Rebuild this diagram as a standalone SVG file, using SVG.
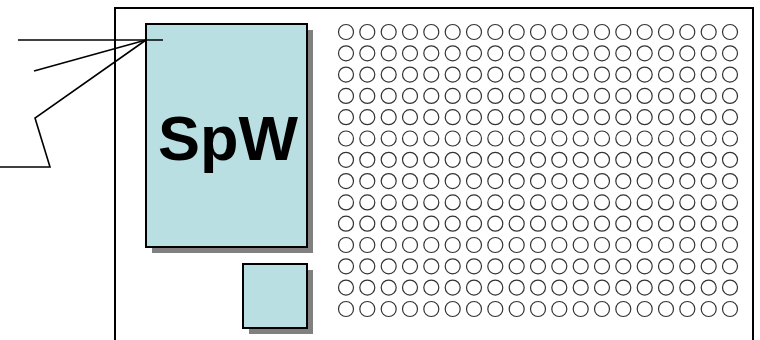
<svg xmlns="http://www.w3.org/2000/svg" xmlns:xlink="http://www.w3.org/1999/xlink" width="760" height="340" viewBox="0 0 760 340">
<style>
.box{fill:#b9dfe3;stroke:#000;stroke-width:2}
.shadow{fill:#808080}
.ln{fill:none;stroke:#000;stroke-width:1.6}
.hole{fill:#fff;stroke:#333;stroke-width:1.2}
.lbl{font-family:"Liberation Sans",Arial,sans-serif;font-weight:bold;font-size:63px;fill:#000}
</style>
<defs>
<g id="row">
<circle class="hole" cx="346" cy="0" r="7.5"/><circle class="hole" cx="367.3" cy="0" r="7.5"/><circle class="hole" cx="388.7" cy="0" r="7.5"/><circle class="hole" cx="410" cy="0" r="7.5"/><circle class="hole" cx="431.3" cy="0" r="7.5"/><circle class="hole" cx="452.7" cy="0" r="7.5"/><circle class="hole" cx="474" cy="0" r="7.5"/><circle class="hole" cx="495.3" cy="0" r="7.5"/><circle class="hole" cx="516.7" cy="0" r="7.5"/><circle class="hole" cx="538" cy="0" r="7.5"/><circle class="hole" cx="559.3" cy="0" r="7.5"/><circle class="hole" cx="580.7" cy="0" r="7.5"/><circle class="hole" cx="602" cy="0" r="7.5"/><circle class="hole" cx="623.3" cy="0" r="7.5"/><circle class="hole" cx="644.7" cy="0" r="7.5"/><circle class="hole" cx="666" cy="0" r="7.5"/><circle class="hole" cx="687.3" cy="0" r="7.5"/><circle class="hole" cx="708.7" cy="0" r="7.5"/><circle class="hole" cx="730" cy="0" r="7.5"/>
</g>
</defs>
<rect x="0" y="0" width="760" height="340" fill="#fff"/>
<g id="board">
<rect x="115" y="8" width="638" height="345" fill="#fff" stroke="#000" stroke-width="2"/>
</g>
<g id="holes">
<use xlink:href="#row" y="32"/><use xlink:href="#row" y="53.3"/><use xlink:href="#row" y="74.6"/><use xlink:href="#row" y="95.9"/><use xlink:href="#row" y="117.2"/><use xlink:href="#row" y="138.5"/><use xlink:href="#row" y="159.8"/><use xlink:href="#row" y="181.1"/><use xlink:href="#row" y="202.4"/><use xlink:href="#row" y="223.7"/><use xlink:href="#row" y="245"/><use xlink:href="#row" y="266.3"/><use xlink:href="#row" y="287.6"/><use xlink:href="#row" y="309"/>
</g>
<g id="spw">
<rect class="shadow" x="152" y="30" width="161" height="223"/>
<rect class="box" x="146" y="24" width="161" height="223"/>
<text class="lbl" x="228" y="160" text-anchor="middle">SpW</text>
</g>
<g id="small">
<rect class="shadow" x="249" y="270" width="64" height="64"/>
<rect class="box" x="243" y="264" width="64" height="64"/>
</g>
<g id="connectors">
<line class="ln" x1="18" y1="40" x2="163" y2="40"/>
<line class="ln" x1="34" y1="71" x2="146" y2="40"/>
<polyline class="ln" points="0,167 50,167 35,118 146,40"/>
</g>
</svg>
